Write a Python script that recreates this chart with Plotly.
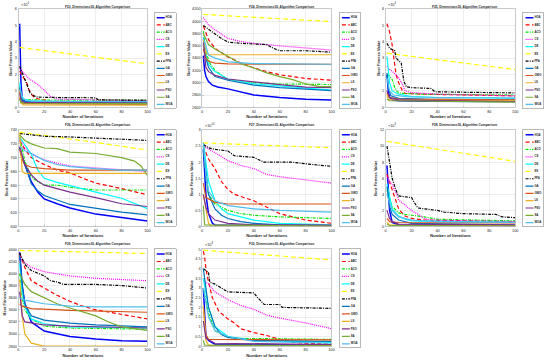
import plotly.graph_objects as go

W, H = 550, 364
ALGS = ["HOA", "ABC", "ACO", "CS", "DE", "ES", "FPA", "GA", "GWO", "LS", "PSO", "SA", "WOA"]
COLORS = {"HOA": "#0000FF", "ABC": "#FF0000", "ACO": "#00E600", "CS": "#FF00FF", "DE": "#00FFFF",
          "ES": "#FFFF00", "FPA": "#000000", "GA": "#0072BD", "GWO": "#D95319", "LS": "#EDB120",
          "PSO": "#7E2F8E", "SA": "#77AC30", "WOA": "#4DBEEE"}
DASH = {"ABC": "4px,2.5px", "ACO": "3px,1.2px,1px,1.2px", "CS": "1px,1px", "ES": "5px,3px",
        "FPA": "3px,1.2px,1px,1.2px"}
X_TICKS = [0, 20, 40, 60, 80, 100]

F23 = {
    "HOA": [(1, 5.1), (2, 1.5), (3, 0.5), (5, 0.35), (10, 0.28), (20, 0.25), (50, 0.23), (100, 0.2)],
    "ABC": [(1, 2.2), (3, 1.9), (5, 1.7), (7, 1.4), (8, 1.1), (10, 0.8), (13, 0.55), (20, 0.45), (25, 0.37), (60, 0.34), (100, 0.3)],
    "ACO": [(1, 1.3), (2, 0.6), (4, 0.48), (10, 0.45), (100, 0.43)],
    "CS": [(1, 2.4), (3, 2.2), (5, 2.0), (8, 1.75), (10, 1.65), (15, 1.4), (20, 1.05), (25, 0.65), (30, 0.5), (50, 0.46), (100, 0.4)],
    "DE": [(1, 1.5), (2, 0.8), (4, 0.5), (10, 0.39), (30, 0.36), (100, 0.34)],
    "ES": [(1, 3.65), (25, 3.4), (50, 3.15), (75, 2.9), (100, 2.65)],
    "FPA": [(1, 2.5), (3, 2.1), (5, 1.65), (7, 1.2), (9, 0.9), (12, 0.7), (15, 0.62), (30, 0.6), (60, 0.58), (62, 0.45), (100, 0.44)],
    "GA": [(1, 1.2), (2, 0.5), (5, 0.33), (20, 0.3), (100, 0.28)],
    "GWO": [(1, 0.6), (2, 0.3), (5, 0.22), (100, 0.2)],
    "LS": [(1, 1.0), (2, 0.25), (4, 0.15), (100, 0.14)],
    "PSO": [(1, 0.9), (2, 0.4), (5, 0.3), (100, 0.27)],
    "SA": [(1, 0.5), (2, 0.3), (5, 0.25), (100, 0.23)],
    "WOA": [(1, 1.3), (3, 0.6), (6, 0.4), (20, 0.36), (100, 0.35)],
}
F24 = {
    "HOA": [(1, 3440), (2, 3200), (3, 3100), (5, 3020), (8, 2960), (12, 2930), (20, 2900), (40, 2800), (60, 2760), (80, 2730), (100, 2720)],
    "ABC": [(1, 3920), (3, 3800), (5, 3700), (10, 3560), (20, 3420), (30, 3320), (40, 3240), (50, 3180), (60, 3130), (80, 3070), (100, 3040)],
    "ACO": [(1, 3840), (3, 3500), (6, 3320), (10, 3200), (20, 3050), (40, 3000), (60, 2980), (100, 2970)],
    "CS": [(1, 4060), (5, 3940), (10, 3860), (20, 3720), (30, 3670), (40, 3640), (60, 3600), (80, 3560), (100, 3530)],
    "DE": [(1, 3740), (3, 3450), (5, 3300), (10, 3180), (20, 3060), (40, 2980), (60, 2950), (100, 2880)],
    "ES": [(1, 4110), (30, 4080), (60, 4040), (100, 3995)],
    "FPA": [(1, 3930), (5, 3870), (10, 3800), (15, 3720), (20, 3660), (30, 3640), (50, 3620), (55, 3560), (60, 3520), (80, 3520), (100, 3497)],
    "GA": [(1, 3700), (3, 3400), (5, 3250), (10, 3100), (20, 3040), (40, 2960), (60, 2920), (100, 2870)],
    "GWO": [(1, 3550), (3, 3400), (5, 3350), (10, 3320), (20, 3305), (100, 3300)],
    "LS": [(1, 3700), (3, 3480), (5, 3455), (100, 3455)],
    "PSO": [(1, 3650), (3, 3250), (5, 3180), (10, 3120), (20, 3060), (40, 3010), (60, 2970), (80, 2930), (100, 2920)],
    "SA": [(1, 3800), (5, 3620), (10, 3550), (20, 3430), (30, 3310), (40, 3240), (50, 3160), (60, 3100), (70, 3050), (80, 2980), (90, 2940), (100, 2935)],
    "WOA": [(1, 3740), (5, 3450), (10, 3400), (20, 3340), (40, 3310), (100, 3300)],
}
F25 = {
    "HOA": [(1, 2.0), (2, 1.0), (3, 0.6), (5, 0.45), (10, 0.4), (30, 0.37), (100, 0.35)],
    "ABC": [(1, 5.1), (3, 4.6), (5, 3.8), (7, 2.6), (8, 2.0), (10, 1.5), (13, 1.0), (15, 0.85), (30, 0.8), (100, 0.7)],
    "ACO": [(1, 2.0), (3, 1.9), (5, 1.7), (7, 1.2), (9, 0.95), (12, 0.85), (30, 0.8), (100, 0.75)],
    "CS": [(1, 2.5), (3, 2.3), (5, 2.2), (10, 1.8), (13, 1.4), (15, 1.0), (20, 0.9), (40, 0.8), (100, 0.7)],
    "DE": [(1, 3.1), (2, 2.0), (3, 1.5), (5, 1.0), (10, 0.8), (20, 0.65), (40, 0.6), (100, 0.55)],
    "ES": [(1, 3.3), (30, 3.0), (60, 2.7), (100, 2.3)],
    "FPA": [(1, 3.9), (3, 3.6), (7, 3.45), (8, 3.0), (12, 2.7), (14, 1.6), (16, 1.25), (20, 1.2), (35, 1.15), (38, 0.95), (60, 0.92), (100, 0.88)],
    "GA": [(1, 2.1), (2, 1.2), (4, 0.7), (10, 0.55), (30, 0.5), (100, 0.45)],
    "GWO": [(1, 0.9), (3, 0.6), (10, 0.5), (100, 0.45)],
    "LS": [(1, 0.8), (2, 0.5), (5, 0.45), (100, 0.4)],
    "PSO": [(1, 1.0), (3, 0.6), (10, 0.45), (100, 0.35)],
    "SA": [(1, 0.5), (3, 0.4), (100, 0.32)],
    "WOA": [(1, 1.8), (3, 1.0), (6, 0.75), (15, 0.65), (40, 0.6), (100, 0.58)],
}
F26 = {
    "HOA": [(1, 715), (3, 700), (5, 690), (8, 675), (10, 665), (15, 650), (20, 640), (30, 633), (40, 627), (60, 618), (80, 613), (100, 608)],
    "ABC": [(1, 725), (5, 712), (10, 700), (15, 695), (20, 690), (30, 682), (40, 678), (50, 670), (60, 663), (80, 655), (100, 646)],
    "ACO": [(1, 730), (5, 695), (10, 672), (15, 665), (20, 660), (30, 660), (40, 657), (60, 653), (100, 653)],
    "CS": [(1, 728), (5, 715), (10, 705), (20, 697), (30, 692), (40, 688), (60, 685), (80, 682), (100, 680)],
    "DE": [(1, 730), (5, 718), (10, 705), (15, 682), (20, 670), (30, 664), (40, 659), (60, 650), (80, 641), (100, 626)],
    "ES": [(1, 737), (30, 730), (60, 722), (100, 711)],
    "FPA": [(1, 735), (10, 733), (20, 731), (40, 730), (60, 728), (80, 727), (90, 725), (100, 725)],
    "GA": [(1, 715), (3, 700), (5, 690), (10, 662), (15, 652), (20, 645), (40, 632), (60, 626), (80, 621), (100, 617)],
    "GWO": [(1, 712), (3, 697), (5, 690), (10, 686), (20, 684), (40, 682), (100, 682)],
    "LS": [(1, 736), (2, 700), (3, 680), (5, 677), (100, 677)],
    "PSO": [(1, 716), (5, 690), (10, 675), (15, 666), (20, 660), (40, 650), (60, 642), (80, 633), (100, 629)],
    "SA": [(1, 733), (5, 725), (10, 720), (20, 714), (30, 713), (40, 708), (60, 706), (80, 700), (90, 695), (95, 688), (100, 674)],
    "WOA": [(1, 716), (5, 710), (10, 706), (20, 696), (30, 690), (40, 687), (60, 684), (80, 682), (100, 682)],
}
F27 = {
    "HOA": [(1, 2.4), (3, 1.0), (5, 0.4), (8, 0.1), (10, 0.05), (100, 0.02)],
    "ABC": [(1, 2.5), (5, 2.1), (10, 1.8), (15, 1.4), (20, 1.15), (25, 1.0), (40, 0.8), (50, 0.6), (60, 0.4), (70, 0.3), (80, 0.2), (100, 0.1)],
    "ACO": [(1, 2.5), (3, 1.5), (5, 1.0), (10, 0.7), (20, 0.5), (30, 0.4), (40, 0.35), (60, 0.3), (100, 0.25)],
    "CS": [(1, 2.5), (10, 2.3), (20, 2.05), (30, 1.9), (40, 1.8), (50, 1.62), (60, 1.55), (80, 1.45), (100, 1.35)],
    "DE": [(1, 2.6), (3, 2.0), (5, 1.4), (10, 0.8), (15, 0.55), (20, 0.4), (30, 0.3), (40, 0.2), (60, 0.1), (100, 0.05)],
    "ES": [(1, 2.6), (50, 2.53), (100, 2.45)],
    "FPA": [(1, 2.55), (5, 2.45), (10, 2.4), (20, 2.35), (25, 2.2), (40, 2.15), (48, 2.0), (70, 2.0), (80, 1.95), (95, 1.9), (100, 1.87)],
    "GA": [(1, 2.4), (3, 1.6), (5, 1.0), (10, 0.55), (15, 0.35), (20, 0.25), (30, 0.15), (40, 0.1), (60, 0.05), (100, 0.03)],
    "GWO": [(1, 1.35), (3, 0.9), (10, 0.75), (20, 0.7), (100, 0.7)],
    "LS": [(1, 1.0), (3, 0.5), (5, 0.1), (7, 0.02), (100, 0.01)],
    "PSO": [(1, 1.0), (3, 0.6), (5, 0.4), (10, 0.2), (20, 0.1), (40, 0.05), (100, 0.04)],
    "SA": [(1, 0.65), (2, 0.05), (100, 0.01)],
    "WOA": [(1, 2.6), (3, 1.6), (5, 1.1), (10, 0.8), (20, 0.65), (30, 0.6), (40, 0.55), (60, 0.5), (100, 0.45)],
}
F28 = {
    "HOA": [(1, 7.6), (2, 4.0), (3, 2.0), (5, 0.5), (10, 0.2), (100, 0.05)],
    "ABC": [(1, 6.5), (3, 5.5), (5, 4.5), (8, 3.0), (10, 2.2), (12, 1.8), (15, 1.3), (20, 1.0), (30, 0.8), (100, 0.6)],
    "ACO": [(1, 4.5), (3, 3.5), (5, 2.5), (10, 1.7), (15, 1.5), (20, 1.4), (30, 1.2), (40, 0.9), (100, 0.7)],
    "CS": [(1, 6.3), (3, 5.6), (5, 5.2), (8, 4.2), (10, 3.3), (15, 2.6), (20, 2.0), (25, 1.5), (30, 1.0), (35, 0.8), (100, 0.6)],
    "DE": [(1, 5.3), (3, 3.5), (5, 2.2), (10, 1.3), (15, 0.9), (20, 0.7), (100, 0.5)],
    "ES": [(1, 10.6), (50, 9.4), (100, 8.1)],
    "FPA": [(1, 10.0), (3, 8.0), (5, 6.0), (8, 4.5), (10, 3.8), (20, 3.6), (22, 3.0), (25, 2.3), (40, 2.0), (45, 1.8), (60, 1.6), (85, 1.5), (90, 1.2), (100, 1.1)],
    "GA": [(1, 5.0), (3, 2.5), (5, 1.5), (10, 0.8), (20, 0.4), (100, 0.2)],
    "GWO": [(1, 1.0), (3, 0.6), (10, 0.5), (100, 0.45)],
    "LS": [(1, 0.5), (3, 0.2), (100, 0.1)],
    "PSO": [(1, 2.0), (3, 1.0), (5, 0.6), (10, 0.3), (100, 0.2)],
    "SA": [(1, 0.3), (3, 0.1), (100, 0.05)],
    "WOA": [(1, 4.0), (5, 2.0), (10, 1.2), (20, 0.8), (40, 0.6), (100, 0.5)],
}
F29 = {
    "HOA": [(1, 4350), (3, 3800), (5, 3500), (10, 3200), (20, 3050), (40, 2960), (60, 2920), (80, 2890), (100, 2880)],
    "ABC": [(1, 4330), (5, 4100), (10, 3880), (20, 3760), (30, 3640), (40, 3540), (50, 3460), (60, 3400), (80, 3320), (90, 3290), (100, 3250)],
    "ACO": [(1, 4000), (3, 3600), (5, 3400), (10, 3250), (20, 3130), (40, 3100), (100, 3080)],
    "CS": [(1, 4260), (5, 4180), (10, 4100), (20, 4030), (40, 3960), (60, 3920), (80, 3900), (100, 3880)],
    "DE": [(1, 4150), (3, 3700), (5, 3450), (10, 3250), (20, 3170), (40, 3120), (100, 3100)],
    "ES": [(1, 4380), (50, 4360), (100, 4330)],
    "FPA": [(1, 4340), (5, 4150), (10, 4050), (15, 4000), (20, 3960), (25, 3880), (30, 3860), (35, 3820), (60, 3820), (80, 3800), (100, 3760)],
    "GA": [(1, 4300), (3, 3800), (5, 3500), (10, 3300), (20, 3230), (40, 3180), (60, 3150), (100, 3120)],
    "GWO": [(1, 3500), (3, 3460), (10, 3420), (40, 3390), (100, 3360)],
    "LS": [(1, 3900), (3, 3300), (5, 3000), (10, 2850), (20, 2800), (100, 2800)],
    "PSO": [(1, 3700), (3, 3300), (5, 3200), (10, 3180), (20, 3150), (40, 3130), (100, 3100)],
    "SA": [(1, 4000), (5, 3820), (10, 3700), (20, 3600), (30, 3500), (40, 3430), (50, 3370), (60, 3300), (70, 3200), (80, 3120), (100, 3060)],
    "WOA": [(1, 3600), (5, 3560), (10, 3540), (20, 3500), (40, 3460), (60, 3450), (100, 3450)],
}
F30 = {
    "HOA": [(1, 3.0), (3, 0.5), (5, 0.3), (10, 0.1), (100, 0.05)],
    "ABC": [(1, 4.9), (2, 4.6), (3, 4.0), (5, 3.3), (8, 2.5), (10, 2.2), (13, 1.8), (20, 1.4), (25, 1.2), (30, 0.9), (40, 0.7), (50, 0.55), (60, 0.35), (70, 0.2), (80, 0.15), (100, 0.1)],
    "ACO": [(1, 3.0), (5, 1.7), (10, 0.8), (20, 0.45), (30, 0.4), (100, 0.35)],
    "CS": [(1, 3.4), (5, 3.2), (10, 2.8), (20, 2.4), (30, 2.1), (40, 1.9), (50, 1.6), (60, 1.45), (80, 1.2), (100, 0.9)],
    "DE": [(1, 3.5), (5, 2.0), (10, 1.0), (20, 0.5), (40, 0.3), (100, 0.2)],
    "ES": [(1, 4.95), (50, 4.7), (100, 4.45)],
    "FPA": [(1, 4.0), (5, 3.8), (6, 3.3), (10, 3.2), (15, 3.0), (20, 2.8), (40, 2.75), (43, 2.5), (48, 2.15), (60, 2.15), (62, 2.0), (100, 1.95)],
    "GA": [(1, 4.0), (3, 3.0), (5, 2.0), (10, 1.0), (15, 0.6), (20, 0.45), (40, 0.3), (100, 0.25)],
    "GWO": [(1, 2.0), (3, 0.6), (5, 0.35), (100, 0.33)],
    "LS": [(1, 2.1), (3, 0.3), (5, 0.05), (100, 0.03)],
    "PSO": [(1, 1.3), (3, 0.4), (10, 0.15), (100, 0.08)],
    "SA": [(1, 0.3), (2, 0.05), (100, 0.02)],
    "WOA": [(1, 3.0), (5, 1.5), (10, 0.8), (20, 0.5), (40, 0.25), (100, 0.15)],
}

# name, data, y range, y tick step, exponent label
PANELS = [
    ("F23", F23, [0, 6], 1, "4"),
    ("F24", F24, [2600, 4200], 200, None),
    ("F25", F25, [0, 6], 1, "4"),
    ("F26", F26, [600, 740], 20, None),
    ("F27", F27, [0, 3], 0.5, "10"),
    ("F28", F28, [0, 12], 2, "9"),
    ("F29", F29, [2800, 4400], 200, None),
    ("F30", F30, [0, 5], 0.5, "8"),
]

# layout geometry (pixels)
COL_PLOT = [(17.5, 147.5), (202.5, 333), (387.5, 518)]
COL_LEG = [(154.5, 176), (341, 362), (526, 546)]
ROW_PLOT = [(7, 106.5), (129.5, 227), (250, 348)]
ROW_LEG = [(11, 107), (129.5, 226.5), (250, 349)]
ROW_TITLE = [4.8, 124.4, 244.6]

FONT = "Liberation Sans, Arial, sans-serif"
TXT = "#262626"


def px_x(a, b):
    return [a / W, b / W]


def px_y(a, b):
    return [1 - b / H, 1 - a / H]


fig = go.Figure()
layout = dict(width=W, height=H, margin=dict(l=0, r=0, t=0, b=0), showlegend=False,
              paper_bgcolor="white", plot_bgcolor="white",
              font=dict(family=FONT, size=3.8, color=TXT))
annotations = []

for i, (name, data, yr, ystep, expo) in enumerate(PANELS):
    r, c = divmod(i, 3)
    ax = i + 1
    lax = i + 9
    xs = "" if ax == 1 else str(ax)
    for alg in ALGS:
        pts = data[alg]
        fig.add_trace(go.Scatter(
            x=[p[0] for p in pts], y=[p[1] for p in pts], mode="lines",
            line=dict(color=COLORS[alg], width=1.5 if alg == "HOA" else 1.2,
                      dash=DASH.get(alg, "solid")),
            xaxis="x" + xs, yaxis="y" + xs, hoverinfo="skip"))
    layout["xaxis" + xs] = dict(
        domain=px_x(*COL_PLOT[c]), anchor="y" + xs, range=[0, 100], tickvals=X_TICKS,
        showgrid=True, gridcolor="#e3e3e3", gridwidth=0.6, zeroline=False,
        showline=True, mirror=True, linecolor="#b0b0b0", linewidth=0.7,
        ticks="inside", ticklen=1.5, tickcolor="#b0b0b0", tickwidth=0.6,
        tickfont=dict(size=3.8, color=TXT),
        title=dict(text="Number of Iterations", standoff=1.5,
                   font=dict(size=4.2, weight="bold", color=TXT)))
    layout["yaxis" + xs] = dict(
        domain=px_y(*ROW_PLOT[r]), anchor="x" + xs, range=yr, dtick=ystep, tick0=yr[0],
        showgrid=True, gridcolor="#e3e3e3", gridwidth=0.6, zeroline=False,
        showline=True, mirror=True, linecolor="#b0b0b0", linewidth=0.7,
        ticks="inside", ticklen=1.5, tickcolor="#b0b0b0", tickwidth=0.6,
        tickfont=dict(size=3.8, color=TXT),
        title=dict(text="Best Fitness Value", standoff=1.5,
                   font=dict(size=4.0, weight="bold", color=TXT)))
    cx = (COL_PLOT[c][0] + COL_LEG[c][1]) / 2
    annotations.append(dict(
        text=f"{name}, Dimension=30, Algorithm Comparison", xref="paper", yref="paper",
        x=cx / W, y=1 - ROW_TITLE[r] / H, xanchor="center", yanchor="middle", showarrow=False,
        font=dict(size=3.2, weight="bold", color=TXT)))
    if expo:
        annotations.append(dict(
            text=f"×10<sup>{expo}</sup>", xref="paper", yref="paper",
            x=(COL_PLOT[c][0] + 0.5) / W, y=1 - (ROW_PLOT[r][0] - 0.3) / H,
            xanchor="left", yanchor="bottom", showarrow=False,
            font=dict(size=3.8, color=TXT)))
    # legend box drawn in its own hidden axes
    lxs = str(lax)
    lw = COL_LEG[c][1] - COL_LEG[c][0]
    lh = ROW_LEG[r][1] - ROW_LEG[r][0]
    layout["xaxis" + lxs] = dict(domain=px_x(*COL_LEG[c]), anchor="y" + lxs, range=[0, lw],
                                 showgrid=False, zeroline=False, showticklabels=False, ticks="",
                                 showline=True, mirror=True, linecolor="#9a9a9a", linewidth=0.7,
                                 fixedrange=True)
    layout["yaxis" + lxs] = dict(domain=px_y(*ROW_LEG[r]), anchor="x" + lxs, range=[lh, 0],
                                 showgrid=False, zeroline=False, showticklabels=False, ticks="",
                                 showline=True, mirror=True, linecolor="#9a9a9a", linewidth=0.7,
                                 fixedrange=True)
    top_pad, bot_pad = 4.8, 3.4
    step = (lh - top_pad - bot_pad) / (len(ALGS) - 1)
    for k, alg in enumerate(ALGS):
        yy = top_pad + k * step
        fig.add_trace(go.Scatter(
            x=[2.4, 10.4], y=[yy, yy], mode="lines",
            line=dict(color=COLORS[alg], width=1.5 if alg == "HOA" else 1.2,
                      dash=DASH.get(alg, "solid")),
            xaxis="x" + lxs, yaxis="y" + lxs, hoverinfo="skip"))
    fig.add_trace(go.Scatter(
        x=[11.3] * len(ALGS), y=[top_pad + k * step for k in range(len(ALGS))],
        text=ALGS, mode="text", textposition="middle right",
        textfont=dict(size=2.8, weight="bold", color=TXT, family=FONT),
        xaxis="x" + lxs, yaxis="y" + lxs, hoverinfo="skip", cliponaxis=False))

layout["annotations"] = annotations
fig.update_layout(**layout)
fig.write_html("out.html", config={"displayModeBar": False, "staticPlot": True})

# remove the default browser body margin so the figure sits at the page origin
with open("out.html", encoding="utf-8") as fh:
    html = fh.read()
html = html.replace("<body>", '<body style="margin:0;padding:0;">', 1)
with open("out.html", "w", encoding="utf-8") as fh:
    fh.write(html)
